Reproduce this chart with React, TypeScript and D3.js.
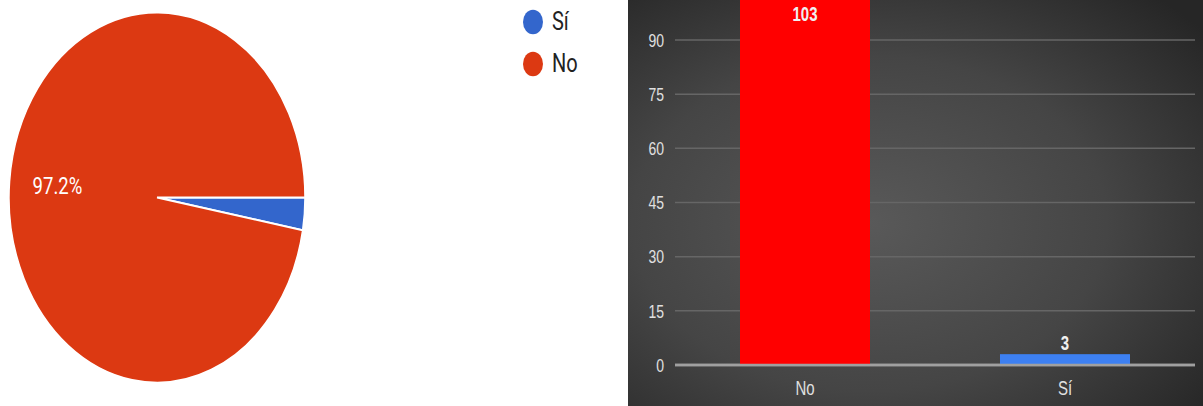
import React from "react";
import * as d3 from "d3";

const pieCategories = ["Sí", "No"];
const pieValues = [3, 103];
const pieColors = ["#3366CC", "#DC3912"];

const barCategories = ["No", "Sí"];
const barValues = [103, 3];
const barColors = ["#FF0000", "#3D80F2"];
const yTicks = [0, 15, 30, 45, 60, 75, 90];

const W = 1203;
const H = 406;
const TS = 1.3; // vertical stretch of the bar-chart text

export default function App() {
  // Pie (stretched vertically like the reference)
  const cx = 157, cy = 197.5, r = 148, sy = 1.25;
  const total = d3.sum(pieValues);
  const pie = d3
    .pie<number>()
    .sort(null)
    .startAngle(Math.PI / 2)
    .endAngle(Math.PI / 2 + 2 * Math.PI)
    .value((d) => d);
  const arcs = pie(pieValues);
  const arcGen = d3.arc<d3.PieArcDatum<number>>().innerRadius(0).outerRadius(r);
  const labelArc = d3.arc<d3.PieArcDatum<number>>().innerRadius(100).outerRadius(100);

  // Bar chart
  const panelX = 628;
  const x = d3.scaleBand<string>().domain(barCategories).range([675, 1195]).paddingInner(0.5).paddingOuter(0.25);
  const y = d3.scaleLinear().domain([0, 90]).range([365, 40]);
  const font = "'Liberation Sans', Arial, sans-serif";

  return (
    <svg width={W} height={H} style={{ position: "fixed", left: 0, top: 0, display: "block" }}>
      <defs>
        <radialGradient id="bg" cx="0.42" cy="0.55" r="0.75">
          <stop offset="0" stopColor="#595959" />
          <stop offset="0.55" stopColor="#454545" />
          <stop offset="1" stopColor="#262626" />
        </radialGradient>
        <clipPath id="panelClip">
          <rect x={panelX} y={0} width={W - panelX} height={H} />
        </clipPath>
      </defs>
      <rect x={0} y={0} width={W} height={H} fill="#ffffff" />

      {/* Pie */}
      <g transform={`translate(${cx},${cy}) scale(1,${sy})`}>
        {arcs.map((a, i) => (
          <path key={pieCategories[i]} d={arcGen(a) || ""} fill={pieColors[i]} stroke="#ffffff" strokeWidth={1.5} />
        ))}
        {arcs.map((a, i) => {
          const pct = a.value / total;
          if (pct < 0.05) return null;
          const [lx, ly] = labelArc.centroid(a);
          return (
            <text
              key={"l" + i}
              x={lx}
              y={ly}
              textAnchor="middle"
              dominantBaseline="central"
              fill="#ffffff"
              fontFamily="Roboto, 'Liberation Sans', sans-serif"
              fontSize={18.5}
            >
              {(pct * 100).toFixed(1) + "%"}
            </text>
          );
        })}
      </g>

      {/* Legend */}
      {pieCategories.map((c, i) => (
        <g key={c} transform={`translate(533,${22 + i * 42}) scale(1,${sy})`}>
          <ellipse cx={0} cy={0} rx={10} ry={9.8} fill={pieColors[i]} />
          <text
            x={19}
            y={0}
            dominantBaseline="central"
            fill="#222222"
            fontFamily="Roboto, 'Liberation Sans', sans-serif"
            fontSize={20}
          >
            {c}
          </text>
        </g>
      ))}

      {/* Bar chart panel */}
      <g clipPath="url(#panelClip)">
        <rect x={panelX} y={0} width={W - panelX} height={H} fill="url(#bg)" />
        {yTicks.map((t) => (
          <g key={t}>
            <line
              x1={675}
              x2={1195}
              y1={y(t)}
              y2={y(t)}
              stroke={t === 0 ? "#a0a0a0" : "#666666"}
              strokeWidth={t === 0 ? 2.5 : 1.5}
            />
            <text
              transform={`translate(664,${y(t)}) scale(1,${TS})`}
              textAnchor="end"
              dominantBaseline="central"
              fill="#e0e0e0"
              fontFamily={font}
              fontSize={14}
            >
              {t}
            </text>
          </g>
        ))}
        {barCategories.map((c, i) => (
          <g key={c}>
            <rect
              x={x(c)}
              y={y(barValues[i])}
              width={x.bandwidth()}
              height={y(0) - y(barValues[i])}
              fill={barColors[i]}
            />
            <text
              transform={`translate(${(x(c) || 0) + x.bandwidth() / 2},${Math.max(y(barValues[i]) - 11, 14)}) scale(1,${TS})`}
              textAnchor="middle"
              dominantBaseline="central"
              fill="#f0f0f0"
              fontWeight="bold"
              fontFamily={font}
              fontSize={15}
            >
              {barValues[i]}
            </text>
            <text
              transform={`translate(${(x(c) || 0) + x.bandwidth() / 2},388) scale(1,${TS})`}
              textAnchor="middle"
              dominantBaseline="central"
              fill="#e0e0e0"
              fontFamily={font}
              fontSize={15}
            >
              {c}
            </text>
          </g>
        ))}
        <line x1={675} x2={1195} y1={y(0)} y2={y(0)} stroke="#a0a0a0" strokeWidth={2.5} />
      </g>
    </svg>
  );
}
